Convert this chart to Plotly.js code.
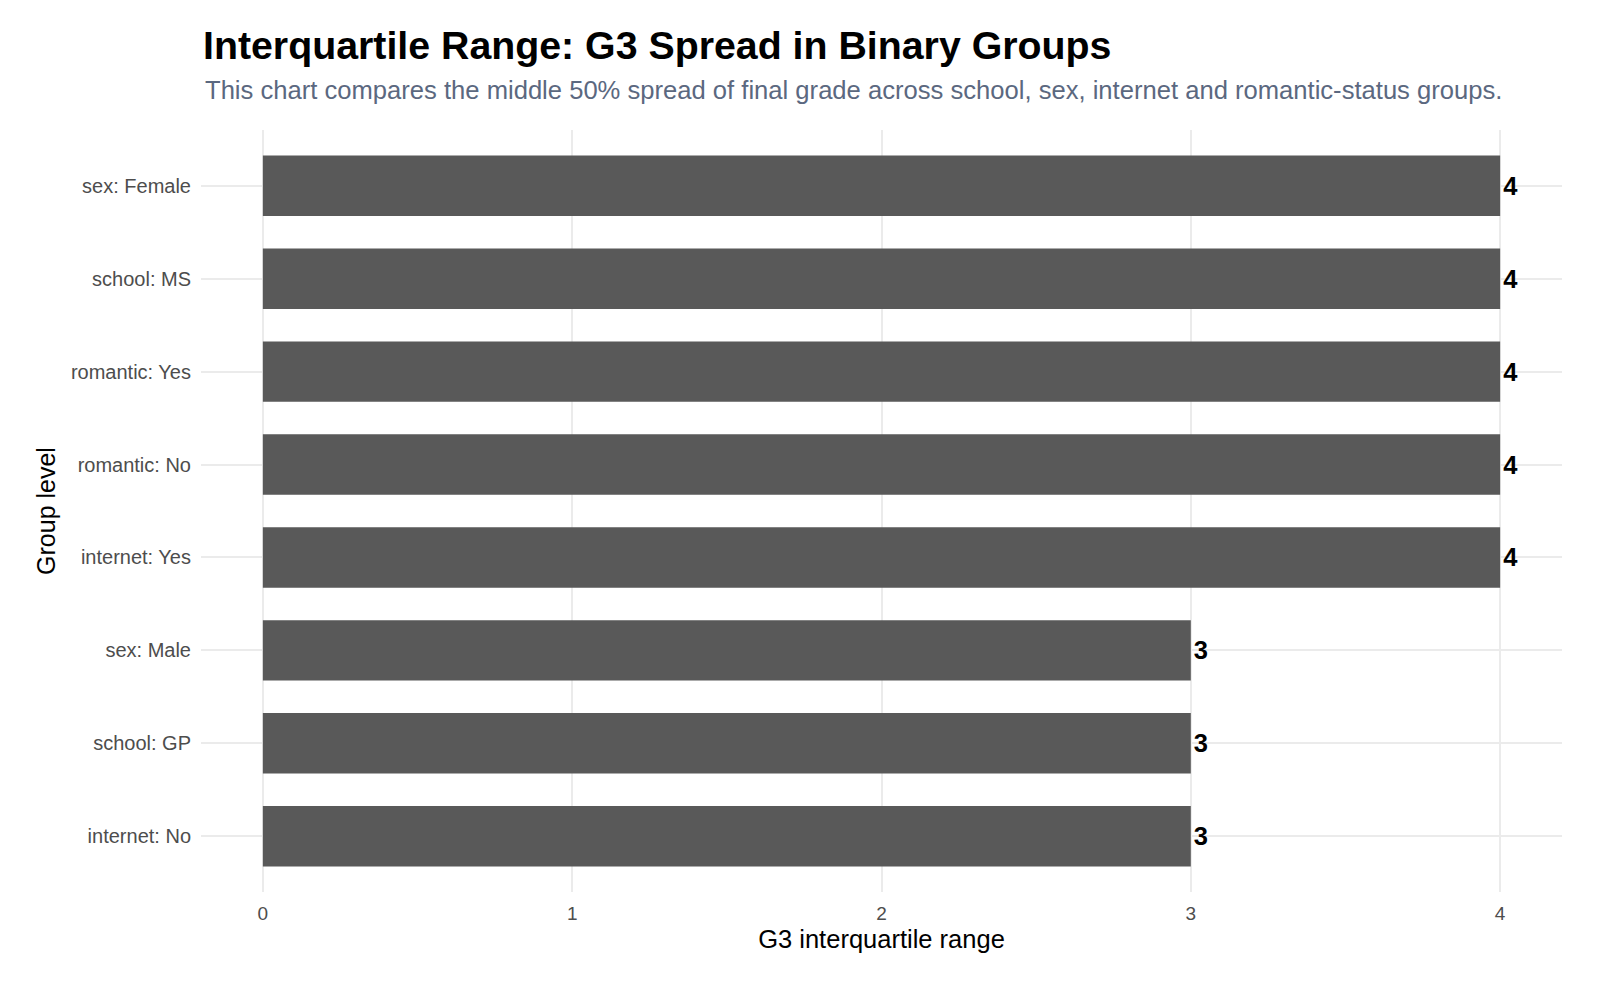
<!DOCTYPE html>
<html>
<head>
<meta charset="utf-8">
<script src="https://cdn.plot.ly/plotly-3.0.1.min.js"></script>
<style>html,body{margin:0;padding:0;background:#fff;}#chart{width:1600px;height:984px;}</style>
</head>
<body>
<div id="chart"></div>
<script>
// Categories from bottom to top
const groups = ["internet: No", "school: GP", "sex: Male", "internet: Yes", "romantic: No", "romantic: Yes", "school: MS", "sex: Female"];
const iqrValues = [3, 3, 3, 4, 4, 4, 4, 4];
const xTicks = [0, 1, 2, 3, 4];

const FONT = "Liberation Sans, Arial, sans-serif";

const trace = {
  type: "bar",
  orientation: "h",
  y: groups,
  x: iqrValues,
  width: 0.65,
  marker: {color: "#595959", line: {width: 0}},
  text: iqrValues.map(v => "<b>" + v + "</b>"),
  textposition: "outside",
  cliponaxis: false,
  textfont: {family: FONT, size: 25.5, color: "#000000"},
  hoverinfo: "x+y"
};

const layout = {
  width: 1600,
  height: 984,
  paper_bgcolor: "#ffffff",
  plot_bgcolor: "#ffffff",
  margin: {l: 201, r: 38, t: 130, b: 92},
  font: {family: FONT},
  showlegend: false,
  title: {
    text: "<b>Interquartile Range: G3 Spread in Binary Groups</b>",
    font: {family: FONT, size: 39.3, color: "#000000"},
    xref: "container", x: 203/1600, xanchor: "left",
    yref: "container", y: 1 - 45/984, yanchor: "middle"
  },
  annotations: [{
    text: "This chart compares the middle 50% spread of final grade across school, sex, internet and romantic-status groups.",
    xref: "paper", yref: "paper",
    x: (203-201)/(1600-201-38), y: 1 + (130-90)/(984-130-92),
    xanchor: "left", yanchor: "middle", showarrow: false,
    font: {family: FONT, size: 25.6, color: "#5B6880"}
  }],
  xaxis: {
    range: [-0.2, 4.2],
    tickvals: xTicks,
    ticktext: xTicks.map(String),
    showgrid: true, gridcolor: "#EBEBEB", gridwidth: 1.6,
    zeroline: false, showline: false, ticks: "",
    ticklabelstandoff: 8,
    tickfont: {family: FONT, size: 19, color: "#4D4D4D"},
    title: {text: "G3 interquartile range", font: {family: FONT, size: 25.5, color: "#000000"}, standoff: 7}
  },
  yaxis: {
    type: "category",
    range: [-0.6, 7.6],
    showgrid: true, gridcolor: "#EBEBEB", gridwidth: 1.6,
    zeroline: false, showline: false, ticks: "",
    ticklabelstandoff: 9,
    tickfont: {family: FONT, size: 20, color: "#4D4D4D"},
    title: {text: "Group level", font: {family: FONT, size: 25, color: "#000000"}, standoff: 8}
  },
  bargap: 0.35
};

Plotly.newPlot("chart", [trace], layout, {displayModeBar: false});
</script>
</body>
</html>
